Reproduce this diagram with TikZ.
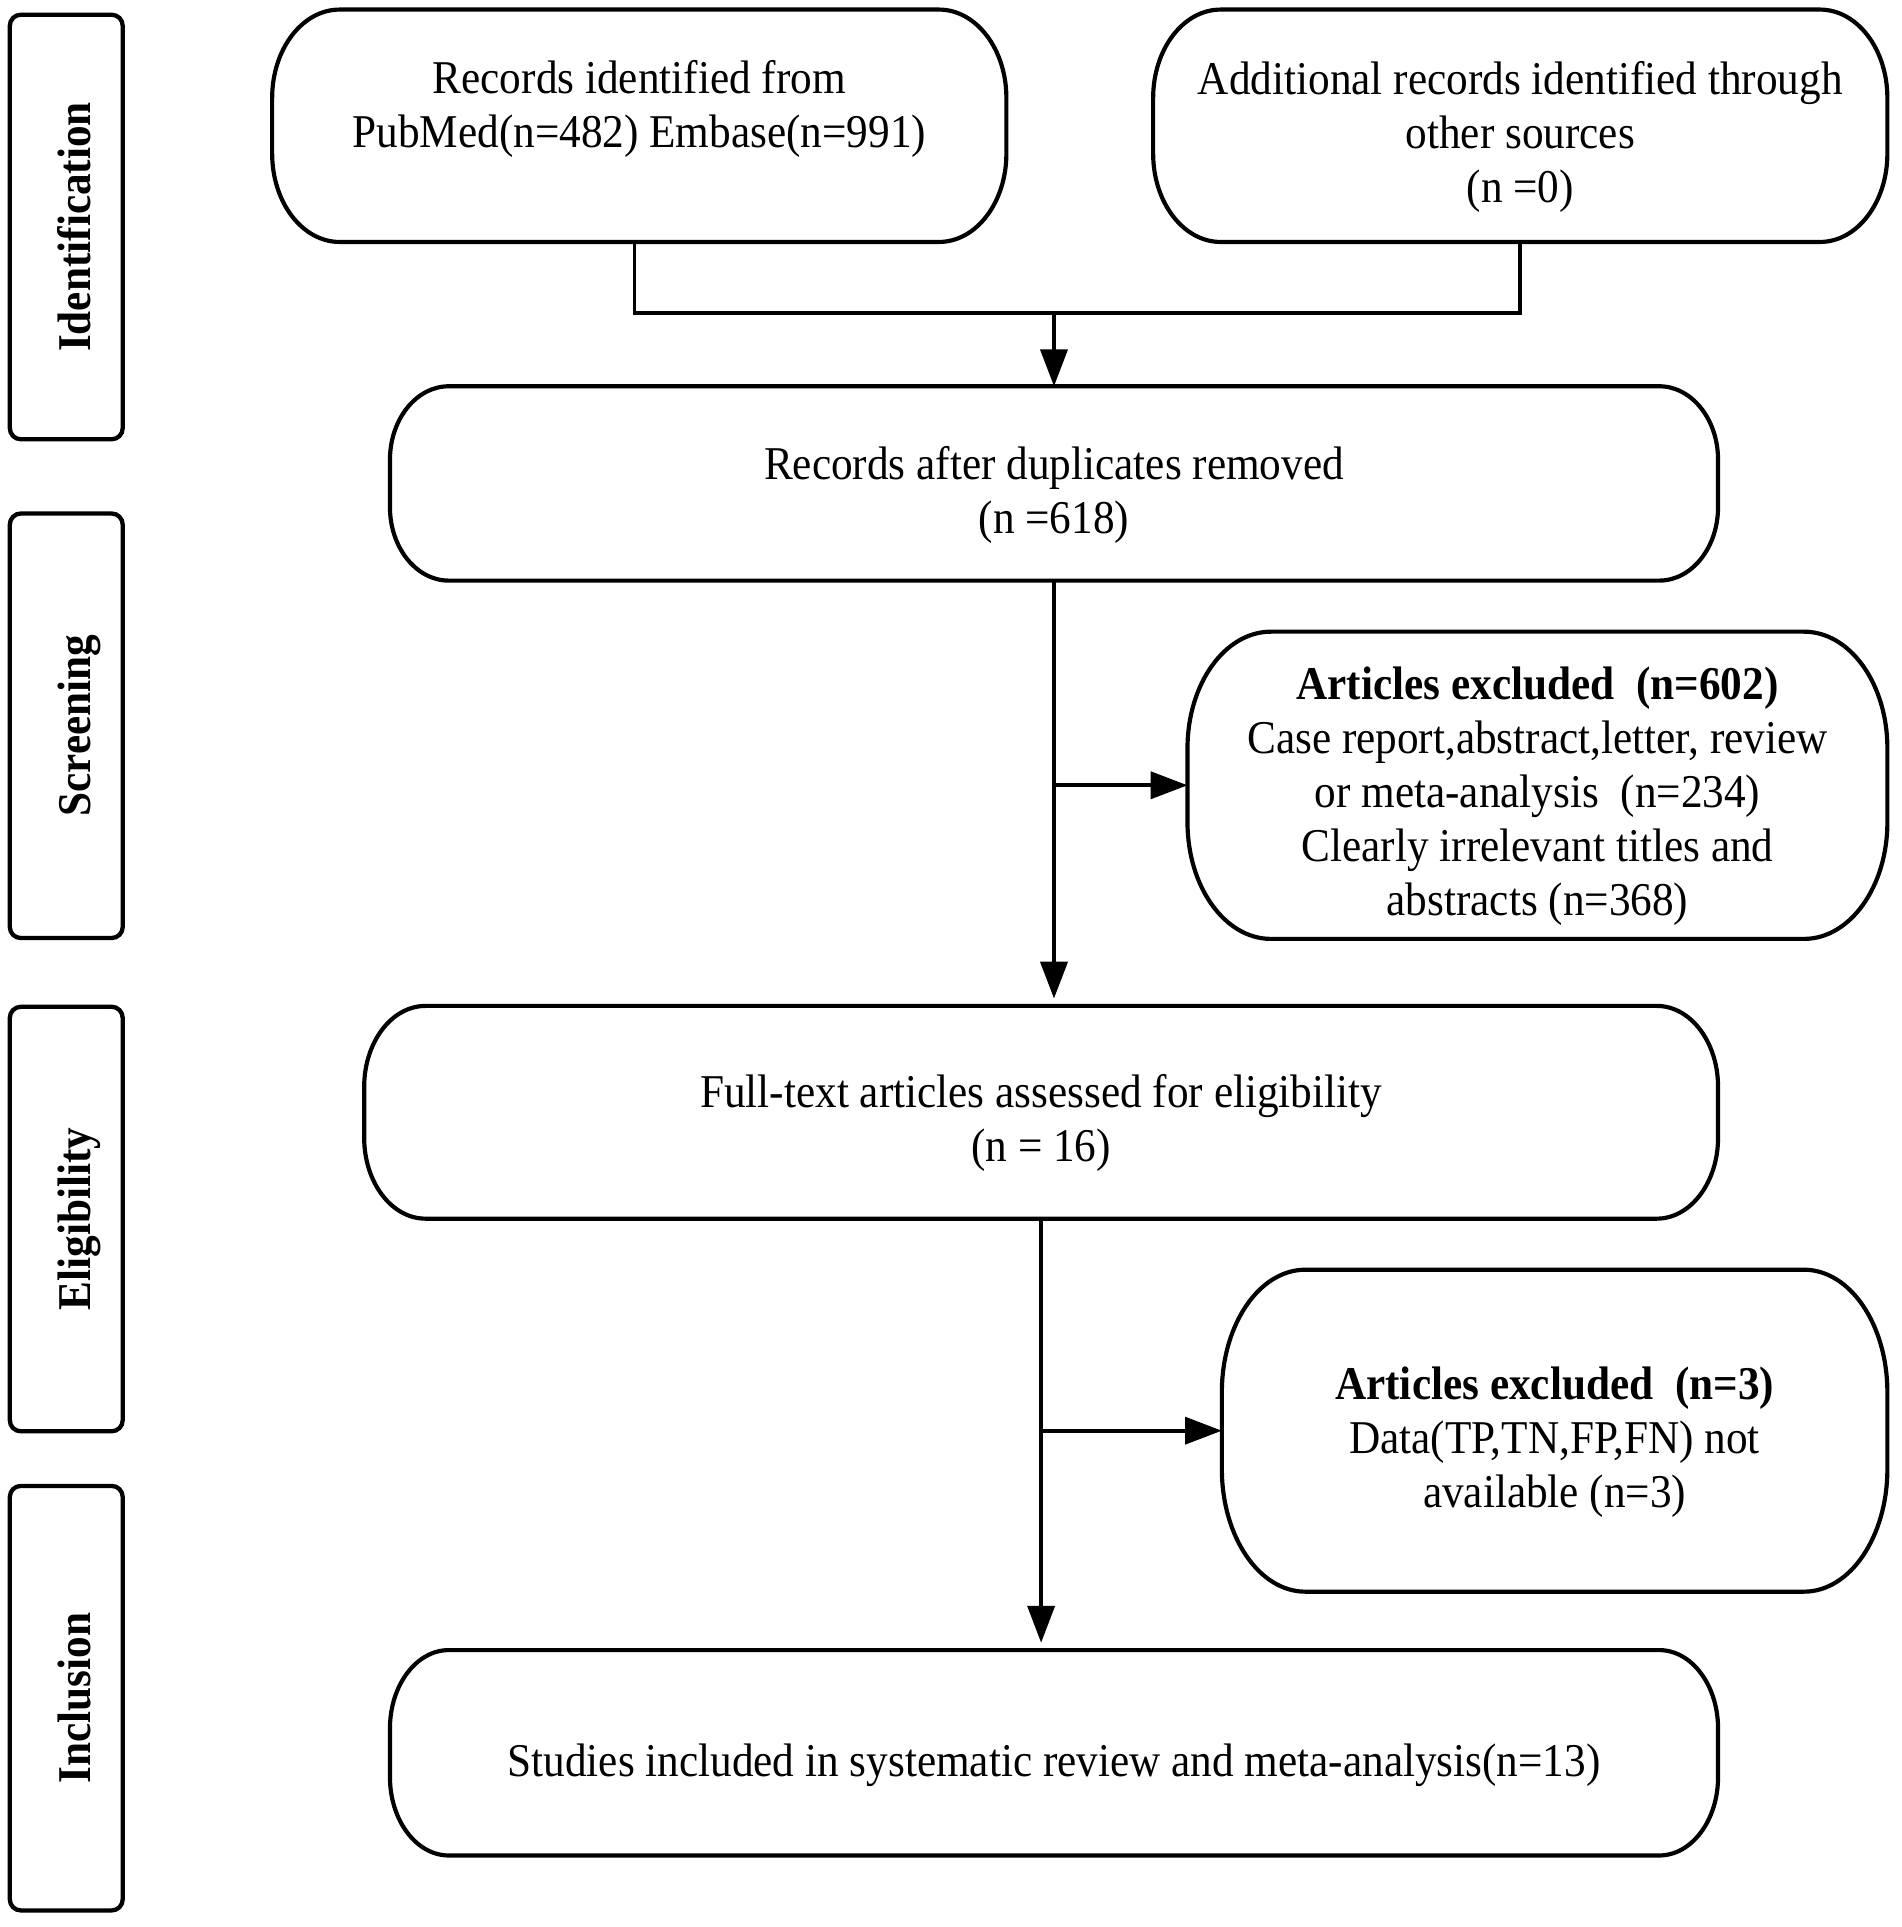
\documentclass[tikz,border=0pt]{standalone}
\usepackage{fontspec}
\setmainfont[FakeStretch=0.92]{Liberation Serif}
\usetikzlibrary{arrows.meta,calc}
\tikzset{
  stagebox/.style={draw, line width=3.5pt, rounded corners=9pt, rotate=90,
    minimum width=346pt, minimum height=92pt, inner sep=0pt,
    text height=40pt, text depth=0pt,
    font=\fontsize{38.3}{44}\selectfont\bfseries},
  flowbox/.style={inner sep=0pt},
  flowtext/.style={inner sep=0pt, align=center, font=\fontsize{38.3}{44}\selectfont},
  boxline/.style={line width=3.4pt, line join=round},
  conn/.style={line width=3pt},
  arr/.style={line width=3pt, -{Triangle[width=22pt,length=30pt]}},
}
\newcommand\flowoutline[3]{%
  \draw[boxline] ([xshift=#2]#1.north west) -- ([xshift=-#2]#1.north east)
    arc[start angle=90,end angle=0,x radius=#2,y radius=#3]
    -- ([yshift=#3]#1.south east)
    arc[start angle=0,end angle=-90,x radius=#2,y radius=#3]
    -- ([xshift=#2]#1.south west)
    arc[start angle=-90,end angle=-180,x radius=#2,y radius=#3]
    -- ([yshift=-#3]#1.north west)
    arc[start angle=180,end angle=90,x radius=#2,y radius=#3] -- cycle;}
\begin{document}
\begin{tikzpicture}[x=1pt,y=-1pt]
\fill[white] (0,0) rectangle (1550,1570.5);
\useasboundingbox (0,0) rectangle (1550,1570.5);

% stage labels
\node[stagebox] (s1) at (54,185) {Identification};
\node[stagebox] (s2) at (54,591.5) {Screening};
\node[stagebox] (s3) at (54,993.5) {Eligibility};
\node[stagebox] (s4) at (54,1384) {Inclusion};

% flow boxes (outlines)
\node[flowbox, minimum width=598pt, minimum height=189pt] (A) at (521,102.5) {};
\node[flowbox, minimum width=598pt, minimum height=189pt] (B) at (1239,102.5) {};
\node[flowbox, minimum width=1082pt, minimum height=158pt] (C) at (859,394) {};
\node[flowbox, minimum width=570pt, minimum height=250pt] (E) at (1253,640) {};
\node[flowbox, minimum width=1103pt, minimum height=173pt] (D) at (848.5,906.5) {};
\node[flowbox, minimum width=542pt, minimum height=262pt] (G) at (1267,1166) {};
\node[flowbox, minimum width=1082pt, minimum height=167pt] (F) at (859,1428.5) {};

\flowoutline{A}{55pt}{72pt}
\flowoutline{B}{55pt}{72pt}
\flowoutline{C}{48pt}{60pt}
\flowoutline{E}{68pt}{95pt}
\flowoutline{D}{50pt}{66pt}
\flowoutline{G}{68pt}{100pt}
\flowoutline{F}{48pt}{64pt}

% texts
\node[flowtext] (At) at (521,89) {Records identified from\\PubMed(n=482) Embase(n=991)};
\node[flowtext] (Bt) at ([yshift=-9pt]B.center) {Additional records identified through\\other sources\\(n =0)};
\node[flowtext] (Ct) at ([yshift=-9pt]C.center) {Records after duplicates removed\\(n =618)};
\node[flowtext] (Et) at ([yshift=-9pt]E.center) {\textbf{Articles excluded\ \ (n=602)}\\Case report,abstract,letter, review\\or meta-analysis\ \ (n=234)\\Clearly irrelevant titles and\\abstracts (n=368)};
\node[flowtext] (Dt) at ([yshift=-9pt]D.center) {Full-text articles assessed for eligibility\\(n = 16)};
\node[flowtext] (Gt) at ([yshift=-9pt]G.center) {\textbf{Articles excluded\ \ (n=3)}\\Data(TP,TN,FP,FN) not\\available (n=3)};
\node[flowtext] (Ft) at ([yshift=-10pt]F.center) {Studies included in systematic review and meta-analysis(n=13)};

% connectors
\coordinate (m) at (859,255);
\draw[conn] ([xshift=-4pt]A.south) -- ([xshift=-4pt]A.south |- m) -- (B.south |- m) -- (B.south);
\draw[arr] (m) -- (C.north);
\draw[arr, shorten >=6pt] (C.south) -- (C.south |- D.north);
\draw[arr] (C.south |- E.west) -- (E.west);
\draw[arr, shorten >=6pt] (D.south) -- (D.south |- F.north);
\draw[arr] (D.south |- G.west) -- (G.west);
\end{tikzpicture}
\end{document}
